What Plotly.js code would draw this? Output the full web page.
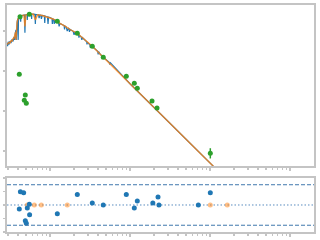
<!DOCTYPE html>
<html><head><meta charset="utf-8">
<script src="https://cdn.plot.ly/plotly-3.0.1.min.js"></script>
<style>html,body{margin:0;padding:0;background:#fff}#c{width:320px;height:240px}</style>
</head><body><div id="c"></div>
<script>
// Model spectrum (blue, high resolution)
const waveModelB = [0.290,0.295,0.300,0.307,0.316,0.325,0.335,0.345,0.355,0.362,0.368,0.376,0.379,0.383,0.389,0.396,0.400,0.404,0.41,0.422,0.43,0.435,0.447,0.46,0.472,0.480,0.486,0.492,0.516,0.52,0.525,0.54,0.562,0.585,0.589,0.593,0.62,0.649,0.656,0.663,0.70,0.72,0.73,0.75,0.77,0.78,0.80,0.85,0.86,0.87,0.90,0.93,0.945,0.96,1.0,1.06,1.07,1.09,1.12,1.13,1.15,1.18,1.19,1.234,1.28,1.30,1.33,1.45,1.50,1.52,1.54,1.60,1.64,1.70,1.73,1.75,1.78,1.95,2.00,2.05,2.194,2.28,2.3,2.33,2.45,2.5,2.55,2.74,2.88,2.9,2.93,3.15,3.2,3.25,3.38,3.8,3.95,4.0,4.05,4.22,4.63,5.5,5.6,5.7,10,30,150];
const fluxModelB = [5.0e-10,4.2e-10,5.4e-10,4.6e-10,5.6e-10,5.0e-10,6.2e-10,5.5e-10,7.1e-10,6.0e-10,8.9e-10,1.06e-9,6.0e-10,1.3e-9,1.75e-9,2.05e-9,6.0e-10,2.1e-9,2.2e-9,2.3e-9,1.7e-9,2.35e-9,2.42e-9,2.47e-9,2.5e-9,2.5e-9,9.0e-10,2.52e-9,2.58e-9,1.9e-9,2.59e-9,2.62e-9,2.66e-9,2.65e-9,2.0e-9,2.65e-9,2.63e-9,2.6e-9,1.5e-9,2.59e-9,2.55e-9,2.53e-9,2.1e-9,2.5e-9,2.47e-9,2.0e-9,2.44e-9,2.39e-9,1.6e-9,2.36e-9,2.3e-9,2.26e-9,1.5e-9,2.23e-9,2.17e-9,2.05e-9,1.5e-9,2.0e-9,1.93e-9,1.5e-9,1.88e-9,1.82e-9,1.6e-9,1.75e-9,1.62e-9,1.3e-9,1.55e-9,1.42e-9,1.37e-9,1.1e-9,1.33e-9,1.26e-9,1.0e-9,1.17e-9,1.13e-9,0.95e-9,1.09e-9,9.8e-10,8.0e-10,9.5e-10,8.76e-10,8.1e-10,6.8e-10,7.9e-10,7.1e-10,6.0e-10,6.8e-10,5.96e-10,5.4e-10,4.6e-10,5.3e-10,4.5e-10,3.8e-10,4.4e-10,4.14e-10,3.3e-10,3.1e-10,2.6e-10,3.05e-10,2.66e-10,2.2e-10,1.65e-10,1.45e-10,1.6e-10,4.81e-11,5.46e-12,2.25e-13];
// Model spectrum (orange, lower resolution)
const waveModelO = [0.290,0.298,0.307,0.316,0.325,0.335,0.345,0.355,0.365,0.372,0.376,0.380,0.387,0.396,0.41,0.422,0.447,0.472,0.486,0.50,0.562,0.62,0.656,0.70,0.80,0.90,1.0,1.09,1.234,1.33,1.54,1.78,2.194,2.74,3.38,4.22,4.63,10,30,150];
const fluxModelO = [4.6e-10,5.0e-10,5.2e-10,5.0e-10,5.7e-10,5.6e-10,6.5e-10,6.6e-10,8.0e-10,9.5e-10,6.0e-10,1.1e-9,1.6e-9,2.0e-9,2.2e-9,2.3e-9,2.42e-9,2.5e-9,1.3e-9,2.55e-9,2.66e-9,2.63e-9,1.9e-9,2.55e-9,2.44e-9,2.3e-9,2.17e-9,2.0e-9,1.75e-9,1.55e-9,1.33e-9,1.09e-9,8.76e-10,5.96e-10,4.14e-10,2.66e-10,2.2e-10,4.81e-11,5.46e-12,2.25e-13];
// Photometry (green)
const wavePhot = [0.4133,0.422,0.4773,0.4913,0.5057,0.551,1.234,2.194,3.379,4.63,8.99,11.32,12.34,18.84,21.75,100.9];
const fluxPhot = [8.27e-11,2.28e-9,1.851e-11,2.51e-11,1.558e-11,2.62e-9,1.748e-9,8.76e-10,4.14e-10,2.20e-10,7.37e-11,4.93e-11,3.69e-11,1.778e-11,1.189e-11,8.76e-13];
const errPhotUp = [2e-12,4e-11,5e-13,7e-13,5e-13,5e-11,3e-11,1.5e-11,8e-12,4e-12,1.5e-12,1e-12,8e-13,4e-13,3e-13,2.98e-13];
const errPhotDn = [2e-12,4e-11,5e-13,7e-13,5e-13,5e-11,3e-11,1.5e-11,8e-12,4e-12,1.5e-12,1e-12,8e-13,4e-13,3e-13,2.26e-13];
// Residuals
const waveRes = [0.4265,0.4684,0.4133,0.5203,0.551,0.556,0.4913,0.5057,1.234,2.194,3.379,4.63,8.99,11.32,12.34,19.3,22.4,23.0,71.5,100.9];
const res = [1.95,1.8,-0.6,-0.45,0.1,-1.45,-2.35,-2.7,-1.3,1.55,0.3,0.0,1.55,-0.45,0.6,0.3,1.2,0.0,0.0,1.8];
const waveResOff = [0.5203,0.6365,0.7785,1.645,100.9,164.5];
const resOff = [0,0,0,0,0,0];

const C_BLUE='#1f77b4', C_OR='#ff7f0e', C_GR='#2ca02c', AX='#c4c4c4';

const traces = [
  {x:waveModelB,y:fluxModelB,type:'scatter',mode:'lines',line:{color:C_BLUE,width:1.2},xaxis:'x',yaxis:'y',hoverinfo:'skip'},
  {x:waveModelO,y:fluxModelO,type:'scatter',mode:'lines',line:{color:C_OR,width:1.4},opacity:0.8,xaxis:'x',yaxis:'y',hoverinfo:'skip'},
  {x:wavePhot,y:fluxPhot,type:'scatter',mode:'markers',marker:{color:C_GR,size:5},
   error_y:{type:'data',symmetric:false,array:errPhotUp,arrayminus:errPhotDn,color:C_GR,thickness:1.5,width:0},xaxis:'x',yaxis:'y'},
  {x:waveResOff,y:resOff,type:'scatter',mode:'markers',marker:{color:C_OR,size:5,opacity:0.5},xaxis:'x2',yaxis:'y2'},
  {x:waveRes,y:res,type:'scatter',mode:'markers',marker:{color:C_BLUE,size:5},xaxis:'x2',yaxis:'y2'}
];

const minorVals = [];
for (let e=-1;e<=3;e++) for (let m=2;m<=9;m++) minorVals.push(m*Math.pow(10,e));

const xax = {type:'log',range:[-0.5375,3.3],showticklabels:false,showgrid:false,zeroline:false,
  showline:true,mirror:true,linecolor:AX,linewidth:2,ticks:'outside',ticklen:3,tickwidth:2,tickcolor:AX,
  tickmode:'array',tickvals:[0.1,1,10,100,1000],
  minor:{tickmode:'array',tickvals:minorVals,ticks:'outside',ticklen:2,tickwidth:1.5,tickcolor:AX}};

const layout = {
  width:320,height:240,margin:{l:7,r:6,t:5,b:8},paper_bgcolor:'#fff',plot_bgcolor:'#fff',showlegend:false,
  xaxis:Object.assign({},xax,{anchor:'y',domain:[0,1]}),
  xaxis2:Object.assign({},xax,{anchor:'y2',domain:[0,1]}),
  yaxis:{type:'log',domain:[0.2907,1],range:[-12.375,-8.35],showticklabels:false,showgrid:false,zeroline:false,
    showline:true,mirror:true,linecolor:AX,linewidth:2,ticks:'outside',ticklen:2,tickwidth:1.5,tickcolor:AX,
    tickmode:'array',tickvals:[1e-12,1e-11,1e-10,1e-9]},
  yaxis2:{domain:[0,0.2379],range:[-4,4],showticklabels:false,showgrid:false,zeroline:false,
    showline:true,mirror:true,linecolor:AX,linewidth:2,ticks:'outside',ticklen:2,tickwidth:1.5,tickcolor:AX,
    tickmode:'array',tickvals:[-4,-2,0,2,4]},
  shapes:[
    {type:'line',xref:'x2 domain',x0:0,x1:1,yref:'y2',y0:3,y1:3,line:{color:'#3f78ad',width:1,dash:'4px,2px'}},
    {type:'line',xref:'x2 domain',x0:0,x1:1,yref:'y2',y0:-3,y1:-3,line:{color:'#3f78ad',width:1,dash:'4px,2px'}},
    {type:'line',xref:'x2 domain',x0:0,x1:1,yref:'y2',y0:0,y1:0,layer:'below',line:{color:'#5a8cbf',width:1,dash:'1.5px,2px'}}
  ]
};
Plotly.newPlot('c',traces,layout,{staticPlot:true,displayModeBar:false});
</script></body></html>
